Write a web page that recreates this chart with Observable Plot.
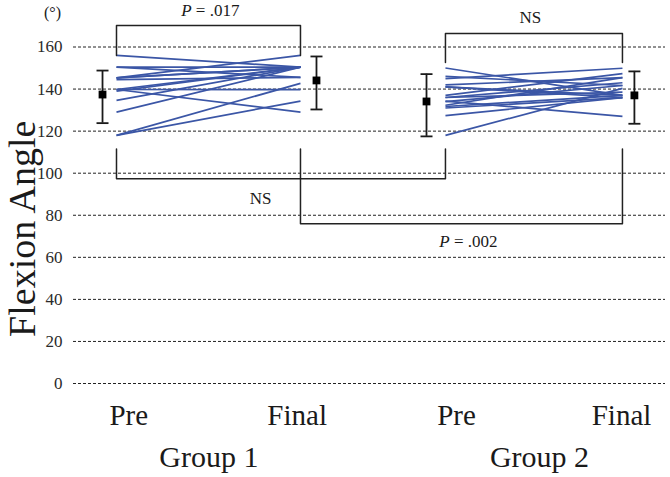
<!DOCTYPE html>
<html>
<head>
<meta charset="utf-8">
<script src="https://cdn.jsdelivr.net/npm/d3@7"></script>
<script src="https://cdn.jsdelivr.net/npm/@observablehq/plot@0.6"></script>
<style>
  body { margin: 0; background: #fff; }
  #chart svg { display: block; }
  #chart svg, #chart svg text { font-family: 'Liberation Serif', 'Times New Roman', serif !important; }
</style>
</head>
<body>
<div id="chart"></div>
<script>
// ---- data ----
const yTicks = [0, 20, 40, 60, 80, 100, 120, 140, 160];
const phaseLabels = ["Pre", "Final", "Pre", "Final"];
const groupLabels = ["Group 1", "Group 2"];

// individual subjects (Pre -> Final), degrees
const g1Pre   = [156, 150.4, 150.4, 145.3, 145.3, 145.3, 144.5, 139.8, 139.8, 139.8, 139, 134.6, 129, 118, 118];
const g1Final = [150.4, 150.4, 145.6, 156, 150.4, 150.4, 145.6, 150.4, 139.7, 129, 150.4, 150.4, 150.4, 142.7, 134.3];
const g2Pre   = [150, 146, 145, 142, 141, 141, 137, 136, 136, 134.3, 134, 132.3, 131.7, 131, 127.4, 118];
const g2Final = [137, 141.7, 149.9, 145.4, 137, 135.9, 147.3, 143, 138.5, 127, 141.7, 145.4, 137, 135.9, 135.9, 140.3];

// mean and error bars (G1 Pre, G1 Final, G2 Pre, G2 Final)
const meanVals = [137.4, 144.1, 134.1, 137.0];
const errLo    = [123.8, 130.3, 117.5, 123.5];
const errHi    = [148.8, 155.5, 147.1, 148.4];

// significance brackets
const bracketText = ["P = .017", "NS", "NS", "P = .002"];
const bracketFrom = [0, 2, 0, 1];   // slot index
const bracketTo   = [1, 3, 2, 3];
const bracketLeg  = [156, 152.6, 111.5, 111.5];
const bracketBar  = [170.2, 166.4, 97.4, 76];

// ---- layout (slot positions on the x scale) ----
const slotX  = [0, 1, 1.788, 2.75];
const meanX  = [-0.076, 1.087, 1.685, 2.815];
const phaseX = [0.067, 0.982, 1.848, 2.745];
const groupX = [0.502, 2.299];
const bracketTextX = [0.51, 2.25, 0.783, 1.913];
const bracketTextY = [177.5, 174.2, 88.1, 67.4];

// ---- build tables ----
const subjects = [
  ...g1Pre.map((v, i) => ({x1: slotX[0], x2: slotX[1], y1: v, y2: g1Final[i]})),
  ...g2Pre.map((v, i) => ({x1: slotX[2], x2: slotX[3], y1: v, y2: g2Final[i]}))
];
const summary = meanVals.map((m, i) => ({x: meanX[i], mean: m, lo: errLo[i], hi: errHi[i]}));
const bracketPts = bracketText.flatMap((t, i) => {
  const a = slotX[bracketFrom[i]], b = slotX[bracketTo[i]];
  return [
    {id: i, x: a, y: bracketLeg[i]},
    {id: i, x: a, y: bracketBar[i]},
    {id: i, x: b, y: bracketBar[i]},
    {id: i, x: b, y: bracketLeg[i]}
  ];
});
const bracketLabels = bracketText.map((t, i) => ({t, x: bracketTextX[i], y: bracketTextY[i]}));
const phaseData = phaseLabels.map((t, i) => ({t, x: phaseX[i]}));
const groupData = groupLabels.map((t, i) => ({t, x: groupX[i]}));

const capSymbol = {draw(ctx) { ctx.moveTo(-6, 0); ctx.lineTo(6, 0); }};
const ink = "#1a1a1a";
const serif = "'Liberation Serif', 'Times New Roman', serif";

const chart = Plot.plot({
  width: 670,
  height: 477,
  marginLeft: 73,
  marginRight: 5,
  marginTop: 46.5,
  marginBottom: 94,
  style: {fontFamily: serif, color: ink, background: "#fff", overflow: "visible"},
  x: {type: "linear", domain: [-0.2337, 2.984], axis: null},
  y: {domain: [0, 160], axis: null},
  marks: [
    Plot.ruleY(yTicks, {stroke: "#222", strokeWidth: 1, strokeDasharray: "3,2"}),
    Plot.axisY({ticks: yTicks, tickSize: 0, tickPadding: 11, fontSize: 17, fontFamily: serif, fontVariant: "normal", label: null, fill: "#2a2a2a"}),
    Plot.link(subjects, {x1: "x1", x2: "x2", y1: "y1", y2: "y2", stroke: "#3b56a6", strokeWidth: 1.7}),
    Plot.line(bracketPts, {x: "x", y: "y", z: "id", stroke: "#222", strokeWidth: 1.5, curve: "linear"}),
    Plot.ruleX(summary, {x: "x", y1: "lo", y2: "hi", stroke: ink, strokeWidth: 1.8}),
    Plot.dot(summary, {x: "x", y: "lo", symbol: capSymbol, r: 6, stroke: ink, fill: "none", strokeWidth: 1.8}),
    Plot.dot(summary, {x: "x", y: "hi", symbol: capSymbol, r: 6, stroke: ink, fill: "none", strokeWidth: 1.8}),
    Plot.dot(summary, {x: "x", y: "mean", symbol: "square", r: 4.4, fill: "#000", stroke: "none"}),
    Plot.text(bracketLabels, {x: "x", y: "y", text: "t", fontSize: 17, fontFamily: serif, fill: ink}),
    Plot.text(phaseData, {x: "x", y: () => -19.95, text: "t", fontSize: 29, fontFamily: serif, lineAnchor: "bottom", fill: ink}),
    Plot.text(groupData, {x: "x", y: () => -39.8, text: "t", fontSize: 30, fontFamily: serif, lineAnchor: "bottom", fill: ink}),
    Plot.text(["(°)"], {frameAnchor: "left", y: [176.2], dx: -21, text: d => d, textAnchor: "middle", fontSize: 16, fontFamily: serif, fill: ink}),
    Plot.text(["Flexion Angle"], {frameAnchor: "left", y: [73.6], dx: -39, text: d => d, rotate: -90, textAnchor: "middle", fontSize: 38, fontFamily: serif, lineAnchor: "bottom", fill: ink})
  ]
});

// italic "P" in the p-value labels
chart.querySelectorAll("text").forEach(t => {
  const s = t.textContent;
  if (s.startsWith("P = ")) {
    t.textContent = "";
    const ts = document.createElementNS("http://www.w3.org/2000/svg", "tspan");
    ts.setAttribute("font-style", "italic");
    ts.textContent = "P";
    t.appendChild(ts);
    t.appendChild(document.createTextNode(s.slice(1)));
  }
});

document.getElementById("chart").appendChild(chart);
</script>
</body>
</html>
